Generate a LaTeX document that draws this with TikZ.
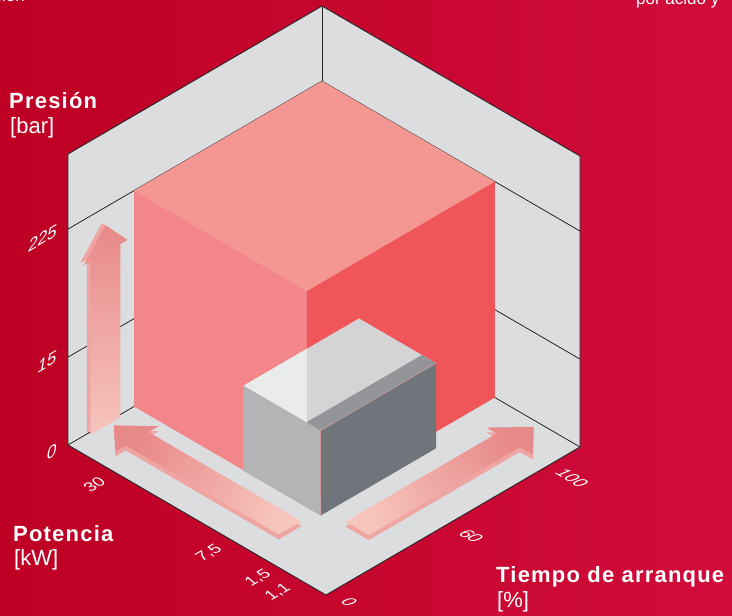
\documentclass[tikz,border=0pt]{standalone}
\usepackage{fontspec}
\setmainfont{Liberation Sans}
\newfontfamily\titlefont[LetterSpace=5.5]{Liberation Sans}
\definecolor{bgL}{HTML}{BE0024}
\definecolor{bgR}{HTML}{D00C3B}
\definecolor{wall}{HTML}{DCDDDF}
\definecolor{pinkTop}{HTML}{F49793}
\definecolor{pinkLeft}{HTML}{F3868A}
\definecolor{pinkRight}{HTML}{F05559}
\definecolor{grayTop}{HTML}{D4D4D6}
\definecolor{grayTopL}{HTML}{EAEBEB}
\definecolor{grayStrip}{HTML}{939599}
\definecolor{grayLeft}{HTML}{B3B4B6}
\definecolor{grayRight}{HTML}{6F757B}
\definecolor{arrHead}{HTML}{E88989}
\definecolor{arrTail}{HTML}{F6C5BD}
\definecolor{arrSide}{HTML}{EFA5A2}
\definecolor{boxEdge}{HTML}{E9A3A3}
\newcommand\vArrowPath[1]{(0.808,#1,0.005) -- (0.926,#1,0.005) -- (0.926,#1,0.60) -- (0.953,#1,0.60) -- (0.867,#1,0.695) -- (0.78,#1,0.60) -- (0.808,#1,0.60) -- cycle}
\newcommand\lArrowPath[1]{(0.815,0.723,#1) -- (0.905,0.723,#1) -- (0.905,0.13,#1) -- (0.945,0.13,#1) -- (0.86,0.04,#1) -- (0.775,0.13,#1) -- (0.815,0.13,#1) -- cycle}
\newcommand\rArrowPath[1]{(0.73,0.81,#1) -- (0.73,0.90,#1) -- (0.135,0.90,#1) -- (0.135,0.95,#1) -- (0.04,0.86,#1) -- (0.135,0.77,#1) -- (0.135,0.81,#1) -- cycle}
\begin{document}
\begin{tikzpicture}[x=1pt,y=-1pt,line join=miter,
  edgeline/.style={draw=black!85,line width=0.9pt},
  gridline/.style={draw=black!85,line width=0.8pt},
  title/.style={text=white,inner sep=0pt,anchor=base west,font=\fontsize{22}{24}\selectfont\titlefont\bfseries},
  unit/.style={text=white,inner sep=0pt,anchor=base west,font=\fontsize{22}{24}\selectfont},
  numstyle/.style={text=white,inner sep=0pt,font=\fontsize{17}{17}\selectfont\itshape,transform shape},
  wallnum/.style={numstyle,cm={1,0.577,0,1,(0,0)}},
  leftnum/.style={numstyle,cm={0.866,0.5,-0.866,0.5,(0,0)}},
  rightnum/.style={numstyle,cm={0.866,-0.5,0.866,0.5,(0,0)}},
  cuttext/.style={text=white,inner sep=0pt,font=\fontsize{17}{18}\selectfont}]
\useasboundingbox (0,0) rectangle (732,616);
\shade[left color=bgL,right color=bgR] (0,0) rectangle (732,616);
\begin{scope}[shift={(322,297)},x={(-254pt,-148pt)},y={(258pt,-150pt)},z={(0pt,291pt)}]
  % walls and floor
  \fill[wall] (0,0,1) -- (1,0,1) -- (1,0,0) -- (1,1,0) -- (0,1,0) -- (0,1,1) -- cycle;
  % grid lines on the walls
  \draw[gridline] (1,0,0.742) -- (0,0,0.742) -- (0,1,0.742);
  \draw[gridline] (1,0,0.302) -- (0,0,0.302) -- (0,1,0.302);
  \draw[gridline] (1,0,0) -- (0,0,0) -- (0,1,0);
  \draw[edgeline,line width=1pt] (0,0,1) -- (0,0,0);
  \draw[edgeline] (0,0,1) -- (1,0,1) -- (1,0,0) -- (1,1,0) -- (0,1,0) -- (0,1,1) -- cycle;
  % vertical arrow on the left wall
  \fill[arrSide] \vArrowPath{0};
  \shade[top color=arrHead,bottom color=arrTail] \vArrowPath{0.014};
  % pink block
  \fill[pinkTop] (0,0,0.742) -- (0.74,0,0.742) -- (0.74,0.67,0.742) -- (0,0.67,0.742) -- cycle;
  \fill[pinkLeft] (0.74,0,0) -- (0.74,0,0.742) -- (0.74,0.67,0.742) -- (0.74,0.67,0) -- cycle;
  \fill[pinkRight] (0,0.67,0) -- (0,0.67,0.742) -- (0.74,0.67,0.742) -- (0.74,0.67,0) -- cycle;
  % grey block
  \fill[grayTop] (0.287,0.426,0.292) -- (0.742,0.426,0.292) -- (0.742,0.725,0.292) -- (0.287,0.725,0.292) -- cycle;
  \fill[grayTopL] (0.492,0.426,0.292) -- (0.742,0.426,0.292) -- (0.742,0.672,0.292) -- cycle;
  \fill[grayStrip] (0.287,0.67,0.292) -- (0.742,0.67,0.292) -- (0.742,0.725,0.292) -- (0.287,0.725,0.292) -- cycle;
  \fill[grayLeft] (0.742,0.426,0) -- (0.742,0.426,0.292) -- (0.742,0.725,0.292) -- (0.742,0.725,0) -- cycle;
  \fill[grayRight] (0.287,0.725,0) -- (0.287,0.725,0.292) -- (0.742,0.725,0.292) -- (0.742,0.725,0) -- cycle;
  \draw[boxEdge,line width=0.4pt] (0.287,0.725,0.292) -- (0.742,0.725,0.292) -- (0.742,0.725,0);
  % floor arrows
  \fill[arrSide] \lArrowPath{0};
  \shade[top color=arrHead,bottom color=arrTail,shading angle=63] \lArrowPath{0.017};
  \fill[arrSide] \rArrowPath{0};
  \shade[top color=arrHead,bottom color=arrTail,shading angle=-64] \rArrowPath{0.017};
\end{scope}
% axis titles
\node[title] (tp) at (9,108) {Presión};
\node[unit] (tpu) at (10,133) {[bar]};
\node[title] (tk) at (13,541) {Potencia};
\node[unit] (tku) at (14,565) {[kW]};
\node[title] (tt) at (496,582) {Tiempo de arranque};
\node[unit] (ttu) at (497,607) {[\%]};
% tick labels
\node[wallnum] (n225) at (42.5,238) {225};
\node[wallnum] (n15) at (47,362) {15};
\node[wallnum] (n0a) at (51.5,451.5) {0};
\node[leftnum] (n30) at (94,485) {30};
\node[leftnum] (n75) at (209,553) {7,5};
\node[leftnum] (n15b) at (258,578) {1,5};
\node[leftnum] (n11) at (278,592) {1,1};
\node[rightnum] (n0b) at (349,602) {0};
\node[rightnum] (n60) at (471,536) {60};
\node[rightnum] (n100) at (572,478) {100};
% text cut by the top edge
\node[cuttext,anchor=base east] (cutl) at (25,1.5) {ción};
\node[cuttext,anchor=base west] (cutr) at (636,4) {por ácido y};
\end{tikzpicture}
\end{document}
